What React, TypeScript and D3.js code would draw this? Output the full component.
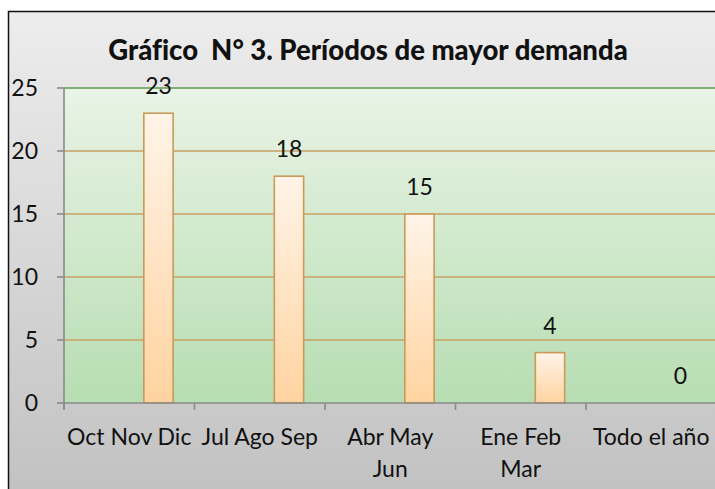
import React from "react";
import * as d3 from "d3";

const categoryLines: string[][] = [
  ["Oct Nov Dic"],
  ["Jul Ago Sep"],
  ["Abr May", "Jun"],
  ["Ene Feb", "Mar"],
  ["Todo el año"],
];
const values: number[] = [23, 18, 15, 4, 0];
const yTicks: number[] = [0, 5, 10, 15, 20, 25];
const title = "Gráfico  N° 3. Períodos de mayor demanda";

const W = 715;
const H = 489;
const plot = { left: 64, right: 716.5, top: 88, bottom: 403 };
const FONT = "Lato, 'Open Sans', sans-serif";

export default function App() {
  const cats = categoryLines.map((_, i) => String(i));
  const x = d3.scaleBand<string>().domain(cats).range([plot.left, plot.right]).padding(0);
  const y = d3.scaleLinear().domain([0, 25]).range([plot.bottom, plot.top]);
  const bw = x.bandwidth();
  const barW = bw * 0.2245;
  const barCenter = (i: number) => (x(String(i)) as number) + bw * 0.724;

  return (
    <svg width={W} height={H} style={{ position: "absolute", left: 0, top: 0 }}>
      <defs>
        <linearGradient id="bgGrad" x1="0" y1="0" x2="0" y2="1">
          <stop offset="0" stopColor="#ededed" />
          <stop offset="1" stopColor="#c0c0c0" />
        </linearGradient>
        <linearGradient id="plotGrad" x1="0" y1="0" x2="0" y2="1">
          <stop offset="0" stopColor="#e9f4e6" />
          <stop offset="1" stopColor="#b7ddb2" />
        </linearGradient>
        <linearGradient id="barGrad" x1="0" y1="0" x2="0" y2="1">
          <stop offset="0" stopColor="#fff4e8" />
          <stop offset="1" stopColor="#ffd3a0" />
        </linearGradient>
      </defs>
      <rect x={8.5} y={11.5} width={740} height={500} fill="url(#bgGrad)" stroke="#111" strokeWidth={1.5} />
      <text
        x={368}
        y={60}
        textAnchor="middle"
        fontFamily={FONT}
        fontWeight="900"
        fontSize={27.5}
        fill="#111"
        style={{ whiteSpace: "pre", fontVariantLigatures: "none" }}
      >
        {title}
      </text>
      <rect x={plot.left} y={plot.top} width={plot.right - plot.left} height={plot.bottom - plot.top} fill="url(#plotGrad)" />
      {yTicks.filter((t) => t > 0 && t < 25).map((t) => (
        <line key={t} x1={plot.left} x2={plot.right} y1={y(t)} y2={y(t)} stroke="#c9a063" strokeWidth={1.6} />
      ))}
      <line x1={plot.left} x2={plot.right} y1={y(25)} y2={y(25)} stroke="#5e9a50" strokeWidth={1.6} />
      {values.map((v, i) => {
        const cx = barCenter(i);
        return (
          <g key={i}>
            {v > 0 && (
              <rect x={cx - barW / 2} y={y(v)} width={barW} height={y(0) - y(v)} fill="url(#barGrad)" stroke="#c99a58" strokeWidth={1.6} />
            )}
            <text x={cx} y={y(v) - 19} textAnchor="middle" fontFamily={FONT} fontSize={23} fill="#111">
              {v}
            </text>
          </g>
        );
      })}
      {/* y axis */}
      <line x1={plot.left} x2={plot.left} y1={plot.top} y2={plot.bottom + 6} stroke="#8a8a8a" strokeWidth={1.6} />
      {yTicks.map((t) => (
        <g key={t}>
          <line x1={plot.left - 7} x2={plot.left} y1={y(t)} y2={y(t)} stroke="#8a8a8a" strokeWidth={1.6} />
          <text x={38} y={y(t)} dy="0.35em" textAnchor="end" fontFamily={FONT} fontSize={23} fill="#111">
            {t}
          </text>
        </g>
      ))}
      {/* x axis */}
      <line x1={plot.left} x2={plot.right} y1={plot.bottom} y2={plot.bottom} stroke="#8a8a8a" strokeWidth={1.6} />
      {cats.map((c) => (
        <line key={c} x1={x(c) as number} x2={x(c) as number} y1={plot.bottom} y2={plot.bottom + 7} stroke="#8a8a8a" strokeWidth={1.6} />
      ))}
      {categoryLines.map((lines, i) => {
        const cx = (x(String(i)) as number) + bw / 2;
        return (
          <text key={i} textAnchor="middle" fontFamily={FONT} fontSize={23} fill="#111">
            {lines.map((l, j) => (
              <tspan key={j} x={cx} y={445 + j * 32}>
                {l}
              </tspan>
            ))}
          </text>
        );
      })}
    </svg>
  );
}
